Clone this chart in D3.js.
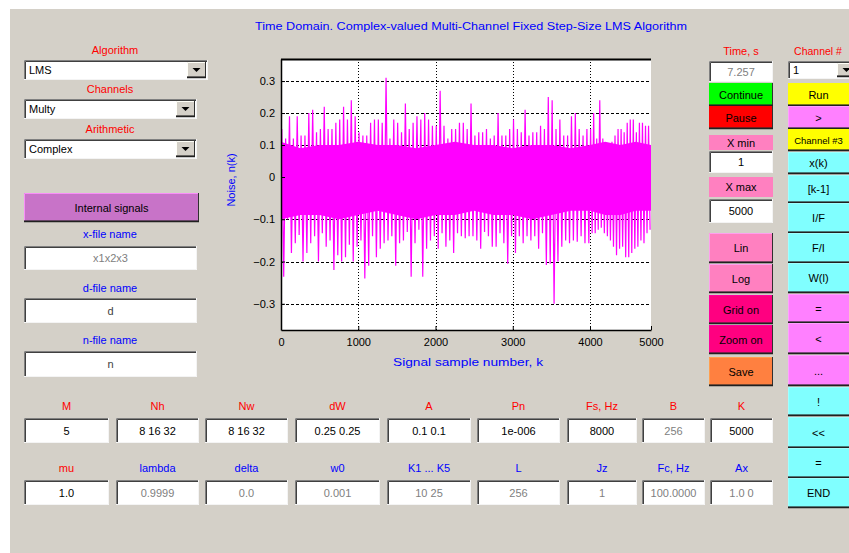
<!DOCTYPE html>
<html>
<head>
<meta charset="utf-8">
<script src="https://cdn.jsdelivr.net/npm/d3@7"></script>
<style>
  body { margin: 0; background: #fff; }
  svg { display: block; font-family: "Liberation Sans", Arial, sans-serif; }
</style>
</head>
<body>
<div id="chart"></div>
<script>
// ---- chart data ----
const xTicks = [0, 1000, 2000, 3000, 4000, 5000];
const yTicks = [-0.3, -0.2, -0.1, 0, 0.1, 0.2, 0.3];
const binSize = 50;   // samples per envelope bin
const upper = [
  .15, .12, .19, .12, .19, .13, .13, .20, .21, .14,
  .15, .22, .15, .15, .17, .18, .22, .18, .24, .19,
  .14, .13, .13, .17, .18, .18, .17, .31, .12, .18,
  .17, .14, .23, .15, .17, .19, .18, .20, .18, .16,
  .16, .27, .16, .12, .15, .15, .17, .17, .15, .23,
  .13, .14, .14, .15, .12, .13, .20, .13, .13, .15,
  .18, .15, .14, .21, .13, .14, .14, .16, .15, .25,
  .24, .15, .18, .13, .13, .19, .20, .15, .13, .15,
  .15, .20, .12, .24, .12, .10, .10, .11, .13, .15,
  .15, .14, .17, .18, .18, .14, .17, .17, .16, .16
];
const lower = [
  -.236, -.10, -.18, -.157, -.137, -.20, -.18, -.157, -.14, -.20,
  -.133, -.165, -.15, -.22, -.185, -.20, -.19, -.16, -.20, -.165,
  -.15, -.24, -.21, -.14, -.19, -.17, -.157, -.15, -.14, -.21,
  -.157, -.15, -.13, -.236, -.157, -.125, -.236, -.17, -.15, -.14,
  -.17, -.133, -.165, -.15, -.18, -.133, -.14, -.145, -.14, -.14,
  -.15, -.17, -.13, -.14, -.165, -.165, -.133, -.157, -.205, -.14,
  -.18, -.14, -.157, -.14, -.15, -.14, -.17, -.133, -.208, -.205,
  -.30, -.20, -.165, -.15, -.157, -.15, -.153, -.14, -.157, -.157,
  -.133, -.133, -.125, -.12, -.133, -.14, -.15, -.165, -.185, -.17,
  -.165, -.19, -.19, -.18, -.17, -.165, -.15, -.157, -.133, -.125
];
const coreStep = 250;  // dense core of the noise band
const coreHi = [.11, .09, .10, .10, .11, .10, .10, .09, .10, .11, .10,
                .10, .09, .10, .10, .09, .10, .11, .10, .11, .10];
const coreLo = [-.10, -.09, -.09, -.10, -.09, -.08, -.09, -.10, -.09, -.09, -.08,
                -.09, -.09, -.10, -.09, -.08, -.08, -.09, -.09, -.08, -.08];

// ---- GUI texts ----
const row1Labels = ["M", "Nh", "Nw", "dW", "A", "Pn", "Fs, Hz", "B", "K"];
const row1Values = ["5", "8 16 32", "8 16 32", "0.25 0.25", "0.1 0.1", "1e-006", "8000", "256", "5000"];
const row2Labels = ["mu", "lambda", "delta", "w0", "K1 ... K5", "L", "Jz", "Fc, Hz", "Ax"];
const row2Values = ["1.0", "0.9999", "0.0", "0.001", "10 25", "256", "1", "100.0000", "1.0  0"];
const colX = [24, 116, 205, 295, 387, 477, 567, 642, 710];
const colW = [85, 83, 83, 85, 84, 83, 70, 63, 63];

const W = 849, H = 553;
const svg = d3.select("#chart").append("svg").attr("width", W).attr("height", H);
svg.append("rect").attr("width", W).attr("height", H).attr("fill", "#fff");
svg.append("rect").attr("x", 10).attr("y", 9).attr("width", W - 10).attr("height", H - 9).attr("fill", "#d4d0c8");

const gui = svg.append("g");

function label(x, y, t, color, size = 11, anchor = "middle") {
  return gui.append("text").attr("x", x).attr("y", y).attr("text-anchor", anchor)
    .attr("font-size", size).attr("fill", color).text(t);
}

function sunken(x, y, w, h, t, color = "#000", align = "middle") {
  gui.append("rect").attr("x", x).attr("y", y).attr("width", w).attr("height", h).attr("fill", "#fff");
  gui.append("path").attr("d", `M${x + 0.5},${y + h}V${y + 0.5}H${x + w}`).attr("fill", "none").attr("stroke", "#808080");
  gui.append("path").attr("d", `M${x + 1.5},${y + h - 1}V${y + 1.5}H${x + w - 1}`).attr("fill", "none").attr("stroke", "#404040");
  gui.append("path").attr("d", `M${x},${y + h - 0.5}H${x + w - 0.5}V${y}`).attr("fill", "none").attr("stroke", "#f4f4f4");
  if (t !== undefined) {
    const tx = align === "middle" ? x + w / 2 : x + 5;
    label(tx, y + h / 2 + 4, t, color, 11, align);
  }
}

// visW: part of the button that is inside the window (text is centred there)
function raised(x, y, w, h, fill, t, visW = w, size = 11) {
  gui.append("rect").attr("x", x).attr("y", y).attr("width", w).attr("height", h).attr("fill", fill);
  gui.append("path").attr("d", `M${x + 0.5},${y + h}V${y + 0.5}H${x + w}`).attr("fill", "none")
    .attr("stroke", d3.color(fill).brighter(0.6)).attr("stroke-width", 1);
  gui.append("path").attr("d", `M${x},${y + h - 1}H${x + w - 0.5}V${y}`).attr("fill", "none")
    .attr("stroke", "#303030").attr("stroke-width", 1);
  gui.append("line").attr("x1", x).attr("x2", x + w).attr("y1", y + h - 0.5).attr("y2", y + h - 0.5)
    .attr("stroke", "#202020").attr("stroke-width", 1.5);
  if (t !== undefined) label(x + visW / 2, y + h / 2 + 4, t, "#000", size);
}

function dropdown(x, y, w, h, t) {
  sunken(x, y, w, h, t, "#000", "start");
  const bw = 19;
  raised(x + w - bw - 2, y + 2, bw, h - 4, "#d4d0c8");
  const cx = x + w - bw / 2 - 2, cy = y + h / 2;
  gui.append("path").attr("d", `M${cx - 4},${cy - 2}H${cx + 4}L${cx},${cy + 2}Z`).attr("fill", "#000");
}

// title
label(471, 30, "Time Domain. Complex-valued Multi-Channel Fixed Step-Size LMS Algorithm", "#0000ff", 10)
  .attr("textLength", 432).attr("lengthAdjust", "spacingAndGlyphs");

// left column
label(115, 54, "Algorithm", "#ff0000");
dropdown(24, 60, 184, 20, "LMS");
label(110, 93, "Channels", "#ff0000");
dropdown(24, 99, 173, 20, "Multy");
label(110, 133, "Arithmetic", "#ff0000");
dropdown(24, 139, 173, 20, "Complex");
raised(24, 193, 175, 29, "#c873c8", "Internal signals");
label(110, 238, "x-file name", "#0000ff");
sunken(24, 246, 173, 24, "x1x2x3", "#808080");
label(110, 292, "d-file name", "#0000ff");
sunken(24, 298, 173, 25, "d", "#404040");
label(110, 344, "n-file name", "#0000ff");
sunken(24, 351, 173, 26, "n", "#404040");

// parameter rows
row1Labels.forEach((t, i) => label(colX[i] + colW[i] / 2, 410, t, "#ff0000"));
row1Values.forEach((t, i) => sunken(colX[i], 418, colW[i], 25, t, i === 7 ? "#808080" : "#000"));
row2Labels.forEach((t, i) => label(colX[i] + colW[i] / 2, 472, t, i === 0 ? "#ff0000" : "#0000ff"));
row2Values.forEach((t, i) => sunken(colX[i], 480, colW[i], 25, t, i === 0 ? "#000" : "#808080"));

// right column A
label(741, 55, "Time, s", "#ff0000");
sunken(709, 61, 64, 21, "7.257", "#808080");
raised(709, 83, 64, 23, "#00ff00", "Continue");
raised(709, 106, 64, 23, "#ff0000", "Pause");
gui.append("rect").attr("x", 709).attr("y", 135).attr("width", 64).attr("height", 15).attr("fill", "#ff80c0");
label(741, 147, "X min", "#000");
sunken(709, 151, 64, 22, "1");
gui.append("rect").attr("x", 709).attr("y", 177).attr("width", 64).attr("height", 20).attr("fill", "#ff80c0");
label(741, 191, "X max", "#000");
sunken(709, 199, 64, 24, "5000");
const colA = [
  [233, 30, "#ff80c0", "Lin"], [264, 29, "#ff80c0", "Log"], [295, 29, "#ff0080", "Grid on"],
  [325, 29, "#ff0080", "Zoom on"], [357, 29, "#ff8040", "Save"]
];
colA.forEach(([y0, h, c, t]) => raised(709, y0, 64, h, c, t));

// right column B (runs past the window edge)
label(818, 55, "Channel #", "#ff0000", 10.5);
dropdown(788, 61, 70, 18, "1");
const colB = [
  [83, 23, "#ffff00", "Run"], [106, 23, "#ff80ff", ">"], [129, 22, "#ffff00", "Channel #3"],
  [152, 22, "#80ffff", "x(k)"], [175, 28, "#80ffff", "[k-1]"], [203, 30, "#80ffff", "I/F"],
  [233, 30, "#80ffff", "F/I"], [263, 30, "#80ffff", "W(l)"], [294, 29, "#ff80ff", "="],
  [323, 31, "#ff80ff", "<"], [355, 31, "#ff80ff", "..."], [387, 29, "#80ffff", "!"],
  [417, 31, "#80ffff", "<<"], [448, 30, "#80ffff", "="], [478, 30, "#80ffff", "END"]
];
colB.forEach(([y0, h, c, t]) => raised(788, y0, 70, h, c, t, 61, t.length > 6 ? 9.5 : 11));

// ---- the plot ----
const x = d3.scaleLinear().domain([0, 4000, 5000]).range([281, 590, 651]);
const y = d3.scaleLinear().domain([-0.362, 0, 0.369]).range([330, 177, 59]);
const plot = svg.append("g");
plot.append("rect").attr("x", 281).attr("y", 59).attr("width", 370).attr("height", 271).attr("fill", "#fff");

// grid
plot.append("g").selectAll("line").data(yTicks).join("line")
  .attr("x1", 281).attr("x2", 651).attr("y1", d => Math.round(y(d)) + 0.5).attr("y2", d => Math.round(y(d)) + 0.5)
  .attr("stroke", "#000").attr("stroke-dasharray", "3,2");
plot.append("g").selectAll("line").data(xTicks.slice(1, -1)).join("line")
  .attr("x1", d => Math.round(x(d)) + 0.5).attr("x2", d => Math.round(x(d)) + 0.5).attr("y1", 59).attr("y2", 330)
  .attr("stroke", "#000").attr("stroke-dasharray", "1,2");

// dense core of the noise
const coreData = coreHi.map((h, i) => ({ k: i * coreStep, hi: h, lo: coreLo[i] }));
plot.append("path").datum(coreData)
  .attr("d", d3.area().x(d => x(d.k)).y0(d => y(d.lo)).y1(d => y(d.hi)))
  .attr("fill", "#ff00ff");

// spikes: per-bin max / min
const pts = [];
upper.forEach((u, i) => {
  pts.push([i * binSize + 10, u]);
  pts.push([i * binSize + 35, lower[i]]);
});
plot.append("path").datum(pts)
  .attr("d", d3.line().x(d => x(d[0])).y(d => y(d[1])))
  .attr("fill", "none").attr("stroke", "#ff00ff").attr("stroke-width", 1.2);

// axes
const fmtY = d => d === 0 ? "0" : d3.format(".1f")(d);
const yAxis = plot.append("g").attr("transform", "translate(281,0)")
  .call(d3.axisLeft(y).tickValues(yTicks).tickFormat(fmtY).tickSizeInner(-4).tickSizeOuter(0).tickPadding(6));
const xAxis = plot.append("g").attr("transform", "translate(0,330)")
  .call(d3.axisBottom(x).tickValues(xTicks).tickFormat(d3.format("d")).tickSizeInner(-4).tickSizeOuter(0).tickPadding(8));
[yAxis, xAxis].forEach(a => {
  a.selectAll("text").attr("font-size", 11).attr("fill", "#000").attr("font-family", "Liberation Sans, Arial, sans-serif");
  a.select(".domain").attr("stroke", "#000").attr("stroke-width", 1.5);
});
plot.append("line").attr("x1", 281).attr("x2", 651).attr("y1", 59.5).attr("y2", 59.5).attr("stroke", "#000").attr("stroke-width", 2);

plot.append("text").attr("transform", "translate(235,180) rotate(-90)").attr("text-anchor", "middle")
  .attr("font-size", 11).attr("fill", "#0000ff").text("Noise, n(k)");
plot.append("text").attr("x", 468).attr("y", 366).attr("text-anchor", "middle")
  .attr("font-size", 11).attr("fill", "#0000ff").attr("textLength", 150).attr("lengthAdjust", "spacingAndGlyphs")
  .text("Signal sample number, k");
</script>
</body>
</html>
